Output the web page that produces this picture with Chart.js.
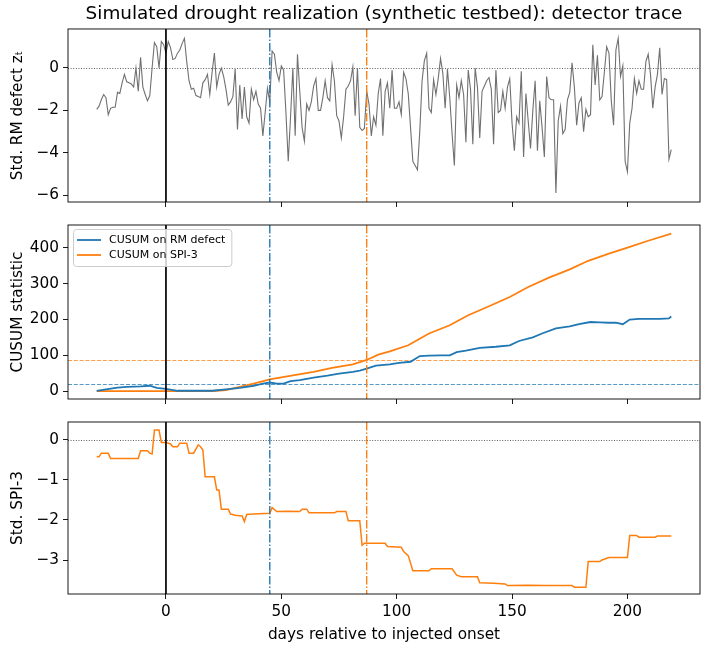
<!DOCTYPE html>
<html>
<head>
<meta charset="utf-8">
<script src="https://cdn.jsdelivr.net/npm/chart.js@4.4.0/dist/chart.umd.min.js"></script>
<style>
    body { margin: 0; background: #fff; }
    #wrap { position: relative; width: 708px; height: 649px; }
    canvas { position: absolute; left: 0; }
</style>
</head>
<body>
<div id="wrap">
    <canvas id="defectChart" width="708" height="210" style="top:0px"></canvas>
    <canvas id="cusumChart" width="708" height="200" style="top:210px"></canvas>
    <canvas id="spiChart" width="708" height="239" style="top:410px"></canvas>
</div>
<script>
// Simulated drought realization - three stacked panels sharing the day axis

const BLUE = '#1f77b4';
const ORANGE = '#ff7f0e';
const FONT = 'DejaVu Sans';

// Top panel: standardized RM defect, one value per day from day -30
const defectStartDay = -30;
const rmDefect = [
    -1.95, -1.8, -1.5, -1.25, -1.4, -2.2, -1.9, -1.85, -1.85, -1.15,   // -30..-21
    -1.2, -0.7, -0.3, -0.65, -0.7, -0.75, -0.9, 0.0, -1.1, 0.5,        // -20..-11
    -0.9, -1.25, -1.55, -1.3, 0.0, 1.2, 1.0, 0.0, 1.25, 1.1,           // -10..-1
    0.7, 1.25, 0.95, 0.4, 0.45, 0.7, 0.85, 1.15, 1.4, 0.3,             // 0..9
    -0.6, -1.0, -0.95, -1.3, -1.35, -1.4, -0.7, -0.55, -0.3, -1.25,    // 10..19
    -0.2, 0.7, -0.9, -0.3, 0.0, -0.4, -1.0, -1.75, -1.6, -1.35,        // 20..29
    -0.05, -2.9, -0.8, -2.4, -0.9, -2.3, -2.6, -1.0, -1.5, -1.1,       // 30..39
    -1.7, -1.9, -3.2, -2.1, -0.95, -1.6, 0.8, 0.65, -0.2, -0.6,        // 40..49
    0.1, -0.1, -2.1, -4.4, -2.3, 0.0, -3.2, 0.65, -1.1, -2.8,          // 50..59
    -3.45, -1.7, -2.0, -1.6, -0.85, -0.5, -2.0, -2.0, -1.4, -0.6,      // 60..69
    -1.4, -1.55, 0.15, -0.6, -2.25, -2.5, -3.3, -2.3, -1.0, -0.85,     // 70..79
    -0.6, 0.05, -2.25, 0.0, -2.8, -2.95, -2.85, -1.1, -1.7, -3.2,      // 80..89
    -2.3, -2.7, -1.2, -0.5, -3.2, -1.1, -0.7, -1.9, -0.1, -1.9,        // 90..99
    -1.9, -1.6, -2.2, -0.2, -0.5, -1.2, -2.8, -4.4, -4.6, -4.8,        // 100..109
    -3.0, -0.6, 0.35, 0.7, -1.9, -2.1, -0.55, -1.25, -0.5, 0.45,       // 110..119
    -0.25, -1.9, -0.05, -1.4, -3.1, -4.6, -0.8, -1.4, -0.6, -1.25,     // 120..129
    -3.5, -0.1, -1.0, -3.6, 0.0, -0.9, -3.3, -1.1, -0.85, -0.6,        // 130..139
    -0.45, -1.0, -3.6, -0.1, -2.1, -2.0, -1.1, -1.9, -0.9, -0.5,       // 140..149
    -2.6, -3.9, -2.3, -2.6, -0.15, -4.2, -1.2, -2.5, -3.8, -2.0,       // 150..159
    -0.6, -3.9, -1.55, -2.8, -4.2, -0.4, -1.4, -1.5, -1.5, -5.9,       // 160..169
    -2.5, -1.8, -3.1, -2.9, -1.5, -1.15, 0.25, -0.9, -2.7, -1.65,      // 170..179
    -1.4, -3.0, -1.95, -2.3, -2.2, 1.1, -0.8, 0.6, -1.5, -1.35,        // 180..189
    -0.2, 1.0, 0.7, -1.55, -2.7, 0.85, 1.4, -0.4, 0.1, -4.4,           // 190..199
    -4.9, -2.6, -1.9, -0.5, -1.2, -0.6, -1.0, -1.0, 0.3, 0.65,         // 200..209
    -0.3, -1.9, -0.9, -0.3, 0.95, -1.25, -0.5, -0.55, -4.3, -3.85      // 210..219
];

// Middle panel: CUSUM statistics (read at the vertices of each curve)
const cusumRmDays = [-30, -26, -21, -17, -11, -7, -4, 0, 5, 12, 20, 26, 32, 38, 42, 45, 48, 51, 54,
    58, 64, 70, 75, 81, 84, 87, 91, 97, 101, 106, 110, 114, 119, 123, 126, 130, 136, 143, 149, 153,
    159, 163, 169, 175, 179, 184, 188, 192, 195, 198, 201, 205, 209, 214, 218, 219];
const cusumRmValues = [1, 5, 10, 12, 13, 15, 9, 6, 1, 1, 1, 5, 9, 15, 21, 24, 21, 21, 28,
    31, 38, 43, 49, 54, 57, 63, 71, 75, 79, 82, 98, 99, 100, 100, 109, 113, 121, 124, 128, 140,
    150, 161, 175, 181, 187, 193, 192, 191, 191, 187, 200, 202, 202, 202, 203, 209];

const cusumSpiDays = [-30, 0, 10, 20, 22, 26, 32, 38, 45, 55, 64, 72, 81, 87, 92, 97, 105, 114,
    123, 131, 140, 149, 157, 166, 175, 183, 192, 201, 209, 219];
const cusumSpiValues = [0, 0, 0, 0, 1, 3, 12, 21, 33, 44, 54, 65, 75, 87, 102, 111, 128, 161,
    184, 212, 237, 263, 291, 317, 340, 364, 384, 403, 420, 440];

// Bottom panel: standardized SPI-3 (step-like, read at each corner)
const spiDays = [-30, -29, -28, -25, -24, -12, -11, -8, -7, -6, -5, -3, -2, 0, 2, 3, 5, 6, 9, 10,
    12, 14, 15, 16, 17, 21, 22, 23, 24, 27, 28, 30, 33, 34, 35, 38, 45, 46, 48, 53, 58, 59, 61, 62,
    73, 74, 78, 79, 84, 85, 86, 95, 96, 102, 103, 105, 107, 114, 115, 124, 126, 128, 135, 136, 142,
    147, 148, 157, 165, 176, 177, 182, 183, 188, 189, 192, 200, 201, 204, 205, 212, 213, 219];
const spiValues = [-0.42, -0.42, -0.33, -0.33, -0.46, -0.46, -0.27, -0.27, -0.33, -0.35, 0.25,
    0.25, -0.06, -0.06, -0.1, -0.17, -0.17, -0.08, -0.08, -0.33, -0.33, -0.12, -0.17, -0.25, -0.92,
    -0.92, -1.25, -1.25, -1.73, -1.73, -1.85, -1.88, -1.9, -2.04, -1.86, -1.85, -1.83, -1.69, -1.79,
    -1.78, -1.79, -1.73, -1.73, -1.82, -1.82, -1.79, -1.79, -2.02, -2.02, -2.63, -2.58, -2.58, -2.66,
    -2.68, -2.79, -2.89, -3.27, -3.27, -3.22, -3.22, -3.38, -3.42, -3.42, -3.57, -3.58, -3.6, -3.64,
    -3.63, -3.64, -3.64, -3.68, -3.68, -3.04, -3.04, -3.0, -2.94, -2.94, -2.39, -2.39, -2.43, -2.43,
    -2.4, -2.4];

// Event days and thresholds
const onsetDay = 0;
const rmDetectDay = 45;
const spiDetectDay = 87;
const rmThreshold = 20;
const spiThreshold = 88;

// Tick labels
const xTicks = [0, 50, 100, 150, 200];
const defectTicks = [-6, -4, -2, 0];
const cusumTicks = [0, 100, 200, 300, 400];
const spiTicks = [-3, -2, -1, 0];

Chart.defaults.font.family = FONT;
Chart.defaults.color = '#000';

const AXIS_FONT = 15.3;
const DASHDOT = [8.5, 2.1, 1.3, 2.1];
const eventLines = [
    { x: onsetDay, color: '#000', width: 1.7, dash: [] },
    { x: rmDetectDay, color: BLUE, width: 1.35, dash: DASHDOT },
    { x: spiDetectDay, color: ORANGE, width: 1.35, dash: DASHDOT }
];

// Reference lines, frame and in-axes legend
const panelDecor = {
    id: 'panelDecor',
    beforeDatasetsDraw(chart, args, opts) {
        const { ctx, chartArea: a, scales: { y } } = chart;
        ctx.save();
        ctx.beginPath();
        ctx.rect(a.left, a.top, a.right - a.left, a.bottom - a.top);
        ctx.clip();
        (opts.hlines || []).forEach(l => {
            const py = Math.round(y.getPixelForValue(l.value)) + 0.5;
            ctx.strokeStyle = l.color;
            ctx.lineWidth = l.width;
            ctx.setLineDash(l.dash);
            ctx.beginPath();
            ctx.moveTo(a.left, py);
            ctx.lineTo(a.right, py);
            ctx.stroke();
        });
        ctx.restore();
    },
    afterDatasetsDraw(chart) {
        const { ctx, chartArea: a, scales: { x } } = chart;
        ctx.save();
        eventLines.forEach(l => {
            const px = x.getPixelForValue(l.x);
            ctx.strokeStyle = l.color;
            ctx.lineWidth = l.width;
            ctx.setLineDash(l.dash);
            ctx.beginPath();
            ctx.moveTo(px, a.top);
            ctx.lineTo(px, a.bottom);
            ctx.stroke();
        });
        ctx.restore();
    },
    afterDraw(chart, args, opts) {
        const { ctx, chartArea: a } = chart;
        ctx.save();
        ctx.strokeStyle = '#000';
        ctx.lineWidth = 0.9;
        ctx.strokeRect(a.left, a.top, a.right - a.left, a.bottom - a.top);

        if (opts.legend) {
            ctx.font = `11px ${FONT}`;
            const labels = chart.data.datasets.map(d => d.label);
            const textW = Math.max(...labels.map(t => ctx.measureText(t).width));
            const bx = a.left + 5, by = a.top + 4;
            const bw = 36 + textW + 6, bh = 37;
            ctx.fillStyle = 'rgba(255,255,255,0.8)';
            ctx.strokeStyle = '#cccccc';
            ctx.lineWidth = 1;
            ctx.beginPath();
            ctx.roundRect(bx + 0.5, by + 0.5, bw, bh, 3);
            ctx.fill();
            ctx.stroke();
            chart.data.datasets.forEach((d, i) => {
                const cy = by + 11 + i * 15;
                ctx.strokeStyle = d.borderColor;
                ctx.lineWidth = 1.8;
                ctx.beginPath();
                ctx.moveTo(bx + 4, cy);
                ctx.lineTo(bx + 28, cy);
                ctx.stroke();
                ctx.fillStyle = '#000';
                ctx.textBaseline = 'middle';
                ctx.fillText(d.label, bx + 36, cy + 0.5);
            });
        }
        ctx.restore();
    }
};
Chart.register(panelDecor);

function toPoints(days, values) {
    return values.map((v, i) => ({ x: days[i], y: v }));
}

function minusSign(v) {
    return String(v).replace('-', '\u2212');
}

// Shared options for one panel
function panelOptions(cfg) {
    return {
        responsive: false,
        animation: false,
        devicePixelRatio: 1,
        layout: { padding: { left: 0, right: 8, top: cfg.padTop, bottom: cfg.padBottom } },
        elements: { point: { radius: 0 }, line: { tension: 0 } },
        plugins: {
            legend: { display: false },
            tooltip: { enabled: false },
            title: cfg.title ? {
                display: true,
                text: cfg.title,
                fullSize: false,
                color: '#000',
                font: { size: 18.4, weight: 'normal' },
                padding: { top: 3, bottom: 3.9 }
            } : { display: false },
            panelDecor: { hlines: cfg.hlines, legend: !!cfg.legend }
        },
        scales: {
            x: {
                type: 'linear',
                min: -42.45,
                max: 231.45,
                afterBuildTicks: s => { s.ticks = xTicks.map(v => ({ value: v })); },
                afterFit: s => { s.height = cfg.xHeight; s.paddingLeft = 0; s.paddingRight = 0; },
                grid: { drawOnChartArea: false, drawTicks: true, tickLength: 5, color: '#000', lineWidth: 0.9 },
                border: { display: false },
                ticks: { display: cfg.showX, padding: 4, font: { size: AXIS_FONT }, color: '#000', maxRotation: 0 },
                title: {
                    display: cfg.showX,
                    text: 'days relative to injected onset',
                    font: { size: AXIS_FONT },
                    color: '#000',
                    padding: { top: 0, bottom: 4.5 }
                }
            },
            y: {
                type: 'linear',
                min: cfg.yMin,
                max: cfg.yMax,
                afterBuildTicks: s => { s.ticks = cfg.yTicks.map(v => ({ value: v })); },
                afterFit: s => { s.width = 68; s.paddingTop = 0; s.paddingBottom = 0; },
                grid: { drawOnChartArea: false, drawTicks: true, tickLength: 5, color: '#000', lineWidth: 0.9 },
                border: { display: false },
                ticks: { padding: 4, font: { size: AXIS_FONT }, color: '#000', callback: minusSign },
                title: {
                    display: true,
                    text: cfg.yTitle,
                    font: { size: AXIS_FONT },
                    color: '#000',
                    padding: { top: 8.5, bottom: 0 }
                }
            }
        }
    };
}

const zeroDotted = { value: 0, color: 'rgba(0,0,0,0.7)', width: 0.9, dash: [1, 1.6] };

new Chart(document.getElementById('defectChart'), {
    type: 'line',
    data: {
        datasets: [{
            label: 'RM defect',
            data: rmDefect.map((v, i) => ({ x: defectStartDay + i, y: v })),
            borderColor: '#707070',
            borderWidth: 1.1
        }]
    },
    options: panelOptions({
        title: 'Simulated drought realization (synthetic testbed): detector trace',
        padTop: 0, padBottom: 2, xHeight: 6, showX: false,
        yMin: -6.32, yMax: 1.84, yTicks: defectTicks,
        yTitle: 'Std. RM defect z\u209C',
        hlines: [zeroDotted]
    })
});

new Chart(document.getElementById('cusumChart'), {
    type: 'line',
    data: {
        datasets: [
            {
                label: 'CUSUM on RM defect',
                data: toPoints(cusumRmDays, cusumRmValues),
                borderColor: BLUE,
                borderWidth: 1.8
            },
            {
                label: 'CUSUM on SPI-3',
                data: toPoints(cusumSpiDays, cusumSpiValues),
                borderColor: ORANGE,
                borderWidth: 1.8
            }
        ]
    },
    options: panelOptions({
        padTop: 15, padBottom: 5, xHeight: 6, showX: false,
        yMin: -22, yMax: 464, yTicks: cusumTicks,
        yTitle: 'CUSUM statistic',
        legend: true,
        hlines: [
            { value: spiThreshold, color: 'rgba(255,127,14,0.75)', width: 1.1, dash: [4, 1.8] },
            { value: rmThreshold, color: 'rgba(31,119,180,0.75)', width: 1.1, dash: [4, 1.8] }
        ]
    })
});

new Chart(document.getElementById('spiChart'), {
    type: 'line',
    data: {
        datasets: [{
            label: 'Std. SPI-3',
            data: toPoints(spiDays, spiValues),
            borderColor: ORANGE,
            borderWidth: 1.5
        }]
    },
    options: panelOptions({
        padTop: 12, padBottom: 0, xHeight: 55, showX: true,
        yMin: -3.85, yMax: 0.45, yTicks: spiTicks,
        yTitle: 'Std. SPI-3',
        hlines: [zeroDotted]
    })
});
</script>
</body>
</html>
